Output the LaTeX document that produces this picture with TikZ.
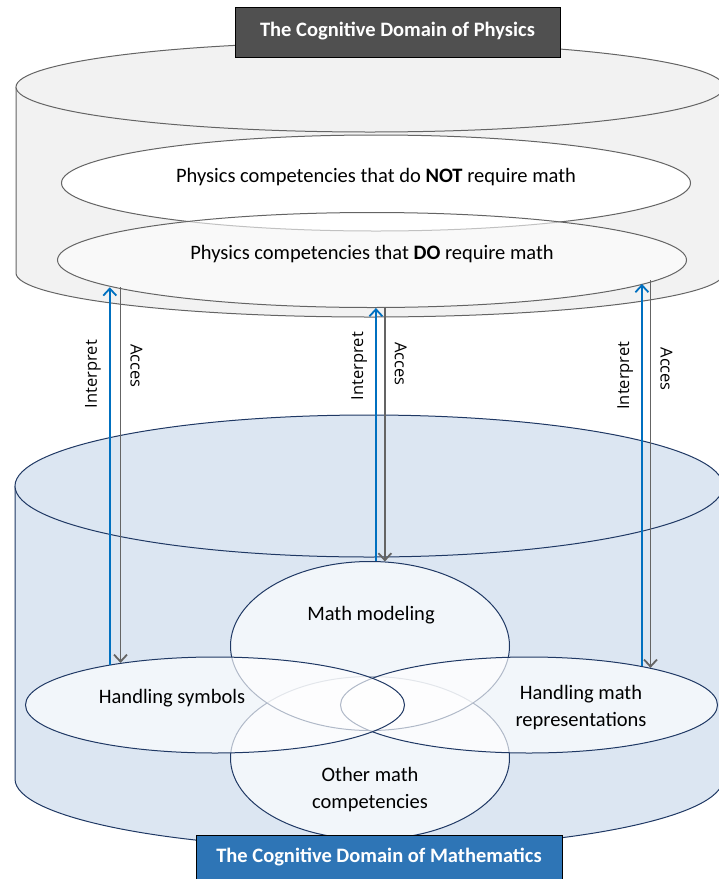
\documentclass[tikz,border=0pt]{standalone}
\usepackage{fontspec}
\setmainfont{Carlito}
\newfontfamily\labelfont{Open Sans}
\usetikzlibrary{shapes.geometric,arrows.meta}

\definecolor{cylgray}{RGB}{242,242,242}
\definecolor{edgegray}{RGB}{100,100,100}
\definecolor{cylblue}{RGB}{220,230,242}
\definecolor{edgenavy}{RGB}{31,56,100}
\definecolor{arrblue}{RGB}{0,112,192}
\definecolor{arrgray}{RGB}{100,100,100}
\definecolor{boxgray}{RGB}{80,80,80}
\definecolor{boxblue}{RGB}{46,117,182}

\tikzset{
  oval/.style={ellipse, draw=edgegray, line width=1pt, inner sep=0pt, text depth=15pt},
  venn/.style={ellipse, draw=edgenavy, line width=1pt, fill=white, fill opacity=0.65, inner sep=0pt},
  interp/.style={arrblue, line width=1.8pt, -{Straight Barb[length=7pt,width=13pt]}},
  acces/.style={arrgray, line width=1.8pt, -{Straight Barb[length=7pt,width=13pt]}},
  ilabel/.style={black, font=\labelfont\fontsize{16.5}{20}\selectfont, rotate=90, anchor=south, inner sep=8pt},
  alabel/.style={black, font=\labelfont\fontsize{16.5}{20}\selectfont, rotate=-90, anchor=south, inner sep=9pt},
  domainbox/.style={draw=black, line width=1pt, text=white, font=\fontsize{20.5}{27}\selectfont\bfseries,
    inner ysep=4pt, anchor=base}
}

\begin{document}
\begin{tikzpicture}[x=1pt, y=-1pt, font=\fontsize{20.5}{27}\selectfont]
\useasboundingbox (0,0) rectangle (719,879);
\clip (0,0) rectangle (719,879);

% physics cylinder
\filldraw[cylgray, draw=edgegray, line width=1pt] (16,87) -- (16,273)
  arc[start angle=180, end angle=360, x radius=354pt, y radius=44pt] -- (724,87);
\filldraw[cylgray, draw=edgegray, line width=1pt] (370,87) ellipse[x radius=354pt, y radius=45pt];

\node[oval, fill=white, minimum width=629, minimum height=96] (notmath) at (376,183)
  {Physics competencies that do \textbf{NOT} require math};
\node[oval, fill=white, fill opacity=.6, text opacity=1, minimum width=629, minimum height=95] (domath) at (372,260)
  {Physics competencies that \textbf{DO} require math};

% mathematics cylinder
\filldraw[cylblue, draw=edgenavy, line width=1pt] (15,486) -- (15,779)
  arc[start angle=180, end angle=360, x radius=354pt, y radius=70pt] -- (723,486);
\filldraw[cylblue, draw=edgenavy, line width=1pt] (369,486) ellipse[x radius=354pt, y radius=71pt];

\node[venn, minimum width=279, minimum height=163] (other) at (370,758) {};
\node[venn, minimum width=279, minimum height=169] (model) at (370,646) {};
\node[venn, minimum width=377, minimum height=96] (repr) at (529,705) {};
\node[venn, minimum width=379, minimum height=96] (symb) at (215,705) {};

\node (modeltxt) at (371,615) {Math modeling};
\node[align=center] (othertxt) at (370,790) {Other math\\competencies};
\node (symbtxt) at (172,698) {Handling symbols};
\node[align=center] (reprtxt) at (581,708) {Handling math\\representations};

% interpret / acces
\draw[interp] (symb.159) -- node[pos=.77, ilabel] {Interpret} (symb.159 |- domath.186);
\draw[acces] (symb.156 |- domath.186) -- node[pos=.21, alabel] {Acces} (symb.156);

\draw[interp] (model.86) -- node[pos=.77, ilabel] {Interpret} (model.86 |- domath.275);
\draw[acces] (model.80 |- domath.285) -- node[pos=.22, alabel] {Acces} (model.80);

\draw[interp] (repr.19) -- node[pos=.76, ilabel] {Interpret} (repr.19 |- domath.355);
\draw[acces] (repr.17 |- domath.356) -- node[pos=.23, alabel] {Acces} (repr.17);

% domain titles
\node[domainbox, fill=boxgray, minimum width=325, text height=25.5pt, text depth=16.5pt] (physdom) at (397.5,36.5)
  {The Cognitive Domain of Physics};
\node[domainbox, fill=boxblue, minimum width=366, text height=23.5pt, text depth=20pt] (mathdom) at (379,862.5)
  {The Cognitive Domain of Mathematics};
\end{tikzpicture}
\end{document}
